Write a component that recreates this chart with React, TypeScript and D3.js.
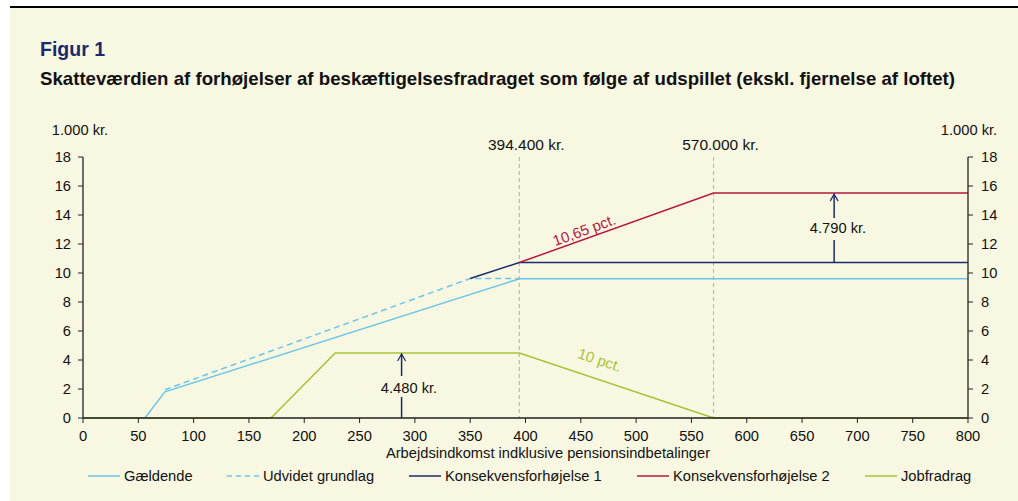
import React from "react";
import * as d3 from "d3";

const W = 1018, H = 501;
const xTicks = d3.range(0, 801, 50);
const yTicks = d3.range(0, 19, 2);

// series: [income (1.000 kr.), value (1.000 kr.)]
const gaeldende: [number, number][] = [[0, 0], [56, 0], [74, 1.8], [394.4, 9.6], [800, 9.6]];
const udvidet: [number, number][] = [[74, 1.95], [350, 9.62], [394.4, 9.62]];
const konsekvens1: [number, number][] = [[350, 9.62], [394.4, 10.72], [800, 10.72]];
const konsekvens2: [number, number][] = [[394.4, 10.72], [570, 15.51], [800, 15.51]];
const jobfradrag: [number, number][] = [[0, 0], [170, 0], [228, 4.48], [394.4, 4.48], [570, 0], [800, 0]];
const vlines = [394.4, 570];
const vlineLabels = ["394.400 kr.", "570.000 kr."];
const legendItems = [
  { label: "Gældende", color: "#6cc5e9", dash: "" },
  { label: "Udvidet grundlag", color: "#6cc5e9", dash: "5,4" },
  { label: "Konsekvensforhøjelse 1", color: "#1b2a6b", dash: "" },
  { label: "Konsekvensforhøjelse 2", color: "#b4183e", dash: "" },
  { label: "Jobfradrag", color: "#a8c23a", dash: "" },
];
const legendX = [88, 227, 409, 637, 865];

export default function App() {
  const x = d3.scaleLinear().domain([0, 800]).range([83, 968]);
  const y = d3.scaleLinear().domain([0, 18]).range([418, 157]);
  const line = d3.line<[number, number]>().x(d => x(d[0])).y(d => y(d[1]));
  const font = "'Liberation Sans', Arial, sans-serif";
  const navy = "#1b2a6b";
  const fs = 14.7;

  const arrow = (xv: number, y0: number, y1: number, label: string, gapTop: number, gapBot: number, tx: number, ty: number) => {
    const px = x(xv);
    const top = y(y1);
    return (
      <g>
        <line x1={px} x2={px} y1={y(y0)} y2={gapBot} stroke={navy} strokeWidth={1.5} />
        <line x1={px} x2={px} y1={gapTop} y2={top + 1} stroke={navy} strokeWidth={1.5} />
        <path d={`M${px - 4},${top + 8} L${px},${top + 1} L${px + 4},${top + 8}`} fill="none" stroke={navy} strokeWidth={1.2} />
        <text x={tx} y={ty} textAnchor="middle" fontSize={fs} fill="#111">{label}</text>
      </g>
    );
  };

  return (
    <svg width={W} height={H} style={{ position: "absolute", left: 0, top: 0 }} fontFamily={font}>
      <rect x={0} y={0} width={W} height={H} fill="#ffffff" />
      <rect x={10} y={7} width={W - 10} height={H - 7} fill="#f8f8e2" />
      <line x1={10} x2={W} y1={7} y2={7} stroke="#000" strokeWidth={2} />
      <text x={40} y={56} fontSize={19.5} fontWeight="bold" fill="#1b2a6b">Figur 1</text>
      <text x={40} y={85} fontSize={18.4} fontWeight="bold" fill="#111" textLength={915} lengthAdjust="spacingAndGlyphs">Skatteværdien af forhøjelser af beskæftigelsesfradraget som følge af udspillet (ekskl. fjernelse af loftet)</text>

      <text x={80} y={135} fontSize={fs} textAnchor="middle" fill="#111">1.000 kr.</text>
      <text x={969} y={135} fontSize={fs} textAnchor="middle" fill="#111">1.000 kr.</text>

      {vlines.map((v, i) => (
        <g key={v}>
          <line x1={x(v)} x2={x(v)} y1={157} y2={418} stroke="#b0b0b0" strokeDasharray="4,3" strokeWidth={1} />
          <text x={x(v) + 7} y={150} fontSize={15.5} textAnchor="middle" fill="#111">{vlineLabels[i]}</text>
        </g>
      ))}

      <path d={line(gaeldende)!} fill="none" stroke="#6cc5e9" strokeWidth={1.5} />
      <path d={line(udvidet)!} fill="none" stroke="#6cc5e9" strokeWidth={1.5} strokeDasharray="6,4" />
      <path d={line(jobfradrag)!} fill="none" stroke="#a8c23a" strokeWidth={1.6} />
      <path d={line(konsekvens1)!} fill="none" stroke="#1b2a6b" strokeWidth={1.5} />
      <path d={line(konsekvens2)!} fill="none" stroke="#b4183e" strokeWidth={1.5} />

      {arrow(288, 0, 4.48, "4.480 kr.", 376, 397, 409, 393)}
      {arrow(679, 10.72, 15.51, "4.790 kr.", 218, 240, 838, 233)}

      <text transform={`translate(586,235) rotate(-20)`} fontSize={15} textAnchor="middle" fill="#b4183e">10,65 pct.</text>
      <text transform={`translate(598,365) rotate(18.5)`} fontSize={15} textAnchor="middle" fill="#a8c23a">10 pct.</text>

      {/* axes */}
      <line x1={83} x2={83} y1={157} y2={418} stroke="#222" strokeWidth={1.3} />
      <line x1={968} x2={968} y1={157} y2={418} stroke="#222" strokeWidth={1.3} />
      <line x1={83} x2={968} y1={418} y2={418} stroke="#222" strokeWidth={1.3} />
      {yTicks.map(t => (
        <g key={t}>
          <line x1={78} x2={83} y1={y(t)} y2={y(t)} stroke="#222" />
          <text x={71} y={y(t) + 5} fontSize={fs} textAnchor="end" fill="#111">{t}</text>
          <line x1={968} x2={973} y1={y(t)} y2={y(t)} stroke="#222" />
          <text x={981} y={y(t) + 5} fontSize={fs} textAnchor="start" fill="#111">{t}</text>
        </g>
      ))}
      {xTicks.map(t => (
        <g key={t}>
          <line x1={x(t)} x2={x(t)} y1={418} y2={423} stroke="#222" />
          <text x={x(t)} y={441} fontSize={fs} textAnchor="middle" fill="#111">{t}</text>
        </g>
      ))}
      <text x={548} y={458} fontSize={fs} textAnchor="middle" fill="#111">Arbejdsindkomst indklusive pensionsindbetalinger</text>

      {legendItems.map((it, i) => (
        <g key={it.label}>
          <line x1={legendX[i]} x2={legendX[i] + 32} y1={476} y2={476} stroke={it.color} strokeWidth={1.5} strokeDasharray={it.dash || undefined} />
          <text x={legendX[i] + 36} y={481} fontSize={fs} fill="#111">{it.label}</text>
        </g>
      ))}
    </svg>
  );
}
